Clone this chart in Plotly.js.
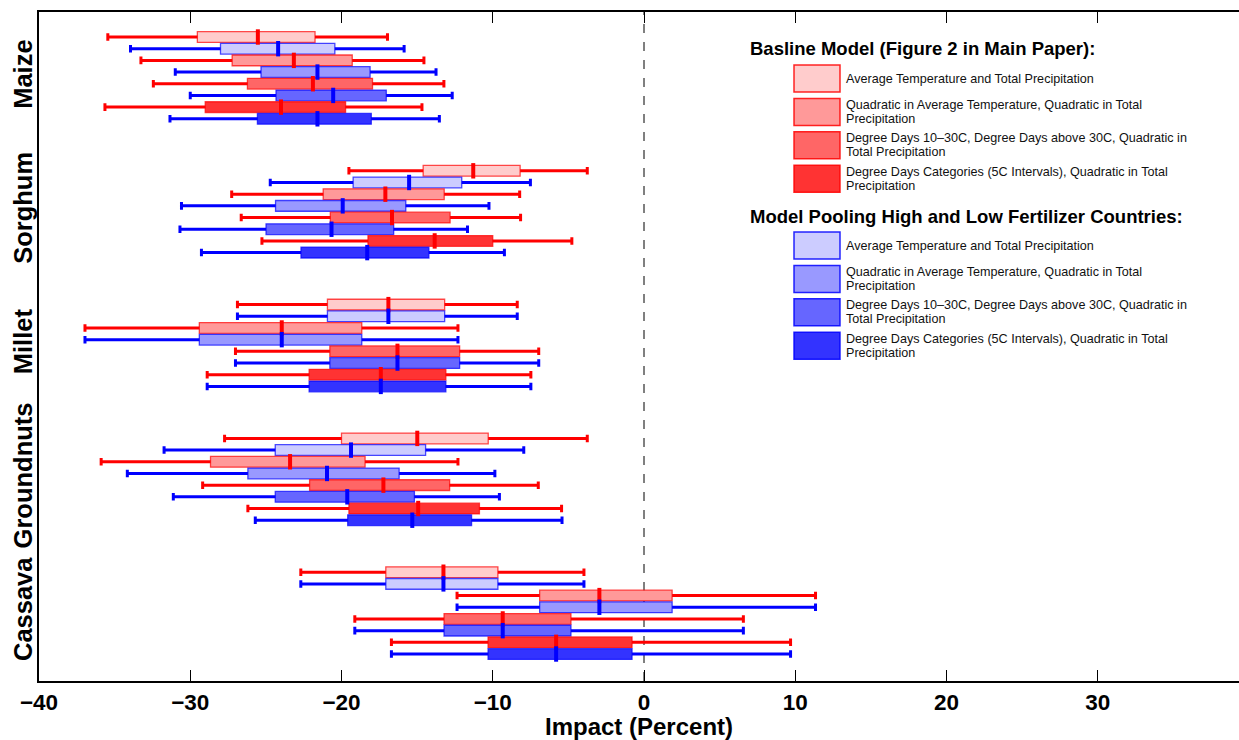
<!DOCTYPE html>
<html>
<head>
<meta charset="utf-8">
<script src="https://cdn.plot.ly/plotly-3.0.1.min.js"></script>
<style>
  html, body { margin: 0; padding: 0; background: #fff; }
  #chart { width: 1239px; height: 740px; }
</style>
</head>
<body>
<div id="chart"></div>
<script>
// ---------------- data ----------------
const crops = ['Maize', 'Sorghum', 'Millet', 'Groundnuts', 'Cassava'];
const modelLabels = [
  ['Average Temperature and Total Precipitation'],
  ['Quadratic in Average Temperature, Quadratic in Total', 'Precipitation'],
  ['Degree Days 10\u201330C, Degree Days above 30C, Quadratic in', 'Total Precipitation'],
  ['Degree Days Categories (5C Intervals), Quadratic in Total', 'Precipitation']
];
const baselineTitle = 'Basline Model (Figure 2 in Main Paper):';
const pooledTitle = 'Model Pooling High and Low Fertilizer Countries:';

// Baseline model (red), [model][crop]
const redLow = [
  [-35.45, -19.51, -26.88, -27.73, -22.69],
  [-33.26, -27.26, -36.96, -35.89, -12.36],
  [-32.44, -26.63, -27.01, -29.18, -19.12],
  [-35.64, -25.26, -28.88, -26.19, -16.70]
];
const redQ1 = [
  [-29.53, -14.60, -20.93, -20.00, -17.07],
  [-27.23, -21.21, -29.40, -28.66, -6.90],
  [-26.22, -20.74, -20.77, -22.11, -13.22],
  [-29.01, -18.25, -22.14, -19.51, -10.31]
];
const redMed = [
  [-25.53, -11.29, -16.90, -14.99, -13.26],
  [-23.15, -17.10, -23.95, -23.40, -2.95],
  [-21.89, -16.66, -16.30, -17.23, -9.34],
  [-24.00, -13.84, -17.40, -14.93, -5.81]
];
const redQ3 = [
  [-21.75, -8.19, -13.18, -10.30, -9.66],
  [-19.29, -13.21, -18.66, -18.44, 1.86],
  [-17.95, -12.82, -12.19, -12.85, -4.83],
  [-19.73, -10.00, -13.10, -10.88, -0.79]
];
const redHigh = [
  [-16.96, -3.75, -8.38, -3.75, -3.97],
  [-14.55, -8.22, -12.30, -12.30, 11.34],
  [-13.23, -8.16, -6.96, -6.99, 6.57],
  [-14.68, -4.77, -7.48, -5.45, 9.69]
];

// Pooled model (blue), [model][crop]
const blueLow = [
  [-33.95, -24.71, -26.88, -31.73, -22.69],
  [-30.99, -30.58, -36.96, -34.16, -12.36],
  [-30.00, -30.68, -27.01, -31.12, -19.12],
  [-31.34, -29.26, -28.88, -25.70, -16.70]
];
const blueQ1 = [
  [-28.00, -19.23, -20.93, -24.38, -17.07],
  [-25.32, -24.36, -29.40, -26.19, -6.90],
  [-24.33, -24.99, -20.77, -24.38, -13.22],
  [-25.56, -22.68, -22.14, -19.59, -10.31]
];
const blueMed = [
  [-24.19, -15.53, -16.90, -19.37, -13.26],
  [-21.59, -19.92, -23.95, -20.96, -2.95],
  [-20.55, -20.66, -16.30, -19.62, -9.34],
  [-21.59, -18.30, -17.40, -15.32, -5.81]
];
const blueQ3 = [
  [-20.44, -12.05, -13.18, -14.44, -9.66],
  [-18.11, -15.75, -18.66, -16.19, 1.86],
  [-17.04, -16.55, -12.19, -15.18, -4.83],
  [-18.03, -14.22, -13.10, -11.40, -0.79]
];
const blueHigh = [
  [-15.86, -7.51, -8.38, -7.95, -3.97],
  [-13.75, -10.25, -12.30, -9.86, 11.34],
  [-12.68, -11.67, -6.96, -9.56, 6.57],
  [-13.53, -9.23, -7.48, -5.42, 9.69]
];

const xTicks = [-40, -30, -20, -10, 0, 10, 20, 30];

// ---------------- styles ----------------
const redFill = ['#ffcccc', '#ff9999', '#ff6666', '#ff3333'];
const blueFill = ['#ccccff', '#9999ff', '#6666ff', '#3333ff'];
const RED = '#ff0000', BLUE = '#0000ff';
const FONT = 'Liberation Sans, Arial, Helvetica, sans-serif';

const GROUP_STEP = 11.45;
const BOX_W = 0.92;
function positions(k) { return crops.map((c, g) => g * GROUP_STEP + k); }

const traces = [];
function addSeries(k, lo, q1, med, q3, hi, fill, col, edge) {
  const pos = positions(k);
  // whiskers
  traces.push({
    type: 'box', orientation: 'h', y: pos,
    q1: med, median: med, q3: med, lowerfence: lo, upperfence: hi,
    width: BOX_W, whiskerwidth: 0.7, boxpoints: false,
    line: { color: col, width: 3 }, fillcolor: 'rgba(0,0,0,0)',
    hoverinfo: 'skip', showlegend: false
  });
  // box
  traces.push({
    type: 'box', orientation: 'h', y: pos,
    q1: q1, median: med, q3: q3, lowerfence: q1, upperfence: q3,
    width: BOX_W, whiskerwidth: 0, boxpoints: false,
    line: { color: edge, width: 1.3 }, fillcolor: fill,
    hoverinfo: 'skip', showlegend: false
  });
  // median
  traces.push({
    type: 'scatter', mode: 'markers', x: med, y: pos,
    marker: { symbol: 'line-ns-open', size: 11, color: col, line: { color: col, width: 4 } },
    hoverinfo: 'skip', showlegend: false
  });
}
for (let m = 0; m < 4; m++) {
  addSeries(2 * m, redLow[m], redQ1[m], redMed[m], redQ3[m], redHigh[m],
            redFill[m], RED, 'rgba(255,0,0,0.7)');
  addSeries(2 * m + 1, blueLow[m], blueQ1[m], blueMed[m], blueQ3[m], blueHigh[m],
            blueFill[m], BLUE, 'rgba(0,0,255,0.7)');
}

// ---------------- legend (custom) ----------------
const L = 39, T = 12, PW = 1200, PH = 669;
const px = v => (v - L) / PW;
const py = v => 1 - (v - T) / PH;
const shapes = [{
  type: 'line', xref: 'x', yref: 'paper', x0: 0, x1: 0, y0: 0, y1: 1,
  layer: 'below', line: { color: '#000', width: 1, dash: 'dash' }
}];
const annotations = [];
function legendBlock(titleY, firstTop, fills, edgeCol, title) {
  annotations.push({
    xref: 'paper', yref: 'paper', x: px(748), y: py(titleY),
    xanchor: 'left', yanchor: 'middle', showarrow: false, text: title,
    font: { family: FONT, size: 18.5, color: '#000', weight: 'bold' }
  });
  for (let m = 0; m < 4; m++) {
    const top = firstTop + m * 33.4, bot = top + 27;
    const mid = (top + bot) / 2;
    shapes.push({
      type: 'rect', xref: 'paper', yref: 'paper',
      x0: px(794), x1: px(840), y0: py(top), y1: py(bot),
      fillcolor: fills[m], line: { color: edgeCol, width: 1.5 }
    });
    const lines = modelLabels[m];
    lines.forEach((txt, i) => {
      const yc = mid + (i - (lines.length - 1) / 2) * 14;
      annotations.push({
        xref: 'paper', yref: 'paper', x: px(844), y: py(yc),
        xanchor: 'left', yanchor: 'middle', align: 'left', showarrow: false,
        text: txt,
        font: { family: FONT, size: 12.6, color: '#111' }
      });
    });
  }
}
legendBlock(48, 65, redFill, 'rgba(255,0,0,0.85)', baselineTitle);
legendBlock(216, 232, blueFill, 'rgba(0,0,255,0.85)', pooledTitle);

const layout = {
  width: 1239, height: 740,
  margin: { l: L, r: 0, t: T, b: 740 - T - PH },
  paper_bgcolor: '#fff', plot_bgcolor: '#fff',
  showlegend: false, boxmode: 'overlay',
  font: { family: FONT, color: '#000' },
  xaxis: {
    range: [-40, -40 + PW / 15.125], tickvals: xTicks,
    ticks: 'inside', ticklen: 11, tickwidth: 1, tickcolor: '#000',
    showline: true, linewidth: 2, linecolor: '#000', mirror: 'ticks',
    showgrid: false, zeroline: false,
    tickfont: { family: FONT, size: 22.5, color: '#000', weight: 'bold' },
    title: { text: 'Impact (Percent)', standoff: 3,
             font: { family: FONT, size: 24, color: '#000', weight: 'bold' } }
  },
  yaxis: {
    range: [4 * GROUP_STEP + 7 + 2.31, -2.14],
    tickvals: crops.map((c, g) => g * GROUP_STEP + 3.5), ticktext: crops,
    tickangle: -90, ticks: '', showline: true, linewidth: 2, linecolor: '#000',
    showgrid: false, zeroline: false, ticklabelstandoff: -5,
    tickfont: { family: FONT, size: 25.5, color: '#000', weight: 'bold' }
  },
  shapes: shapes,
  annotations: annotations
};

Plotly.newPlot('chart', traces, layout, { staticPlot: true, displayModeBar: false });
</script>
</body>
</html>
